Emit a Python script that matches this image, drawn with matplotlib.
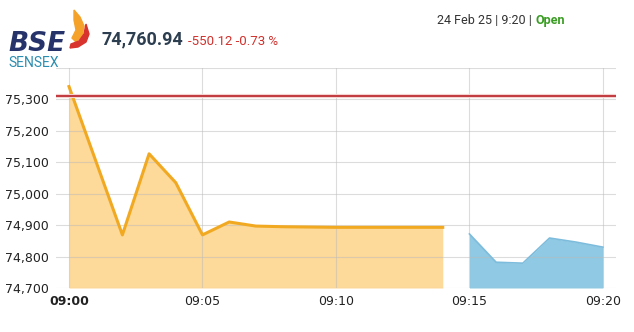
import matplotlib.pyplot as plt
from matplotlib.patches import Polygon

# minutes after 09:00
morning_min = list(range(0, 15))
morning_val = [75341, 75105, 74869, 75127, 75035, 74869, 74910, 74897,
               74895, 74894, 74893, 74893, 74893, 74893, 74893]
late_min = [15, 16, 17, 18, 19, 20]
late_val = [74872, 74782, 74779, 74859, 74846, 74830]
prev_close = 75311.06
y_ticks = [74700, 74800, 74900, 75000, 75100, 75200, 75300]
x_ticks = [0, 5, 10, 15, 20]
x_labels = ["09:00", "09:05", "09:10", "09:15", "09:20"]

fig = plt.figure(figsize=(6.34, 3.32), dpi=100)
ax = fig.add_axes([56 / 634, 1 - 288 / 332, 560 / 634, 220 / 332])

ax.fill_between(morning_min, morning_val, 74700, color='#fdd99a', lw=0, zorder=2)
ax.plot(morning_min, morning_val, color='#f2a922', lw=2.2, solid_joinstyle='round', zorder=4)
ax.fill_between(late_min, late_val, 74700, color='#8fc9e3', lw=0, zorder=2)
ax.plot(late_min, late_val, color='#7dbcdc', lw=1.2, zorder=4)
ax.axhline(prev_close, color='#f5d3d3', lw=3, zorder=5)
ax.axhline(prev_close, color='#c0393e', lw=1.4, zorder=6)

ax.set_xlim(-0.487, 20.49)
ax.set_ylim(74700, 75400)
ax.set_yticks(y_ticks + [75400])
ax.set_yticklabels([f"{v:,}" for v in y_ticks] + [""], fontsize=9, color='#222222')
ax.set_xticks(x_ticks)
ax.set_xticklabels(x_labels, fontsize=9, color='#222222')
ax.get_xticklabels()[0].set_fontweight('bold')
ax.tick_params(length=0, pad=5)
ax.tick_params(axis='x', pad=5)
ax.grid(True, color='#bbbbbb', lw=0.8, alpha=0.5, zorder=3)
ax.set_axisbelow(False)
for s in ax.spines.values():
    s.set_visible(False)

# header
fig.text(8 / 634, 1 - 51 / 332, "BSE", fontsize=19, fontweight='bold', fontstyle='italic',
         color='#26336a', family='DejaVu Sans')
fig.text(8 / 634, 1 - 67 / 332, "SENSEX", fontsize=10, color='#2a8db0', family='Roboto')
flame = Polygon([(74, 10), (80, 17), (84, 26), (82, 36), (76, 42), (72, 38), (76, 30), (74, 20)],
                closed=True, transform=None, color='#f5a22a')
flame2 = Polygon([(86, 24), (89, 34), (86, 42), (78, 47), (70, 48), (71, 44), (79, 41), (84, 34)],
                 closed=True, transform=None, color='#d9332e')
for p in (flame, flame2):
    p.set_xy([(x, 332 - y) for x, y in p.get_xy()])
    fig.patches.append(p)

val = fig.text(102 / 634, 1 - 44 / 332, "74,760.94", fontsize=13, color='#2c3e50',
               fontweight='bold', family='Roboto')
ax.annotate("-550.12 -0.73 %", xy=(1, 0), xycoords=val, xytext=(3, 0), textcoords='offset points',
            fontsize=9.5, color='#d0312d', family='Roboto', va='bottom', annotation_clip=False)
t = fig.text(437 / 634, 1 - 24 / 332, "24 Feb 25 | 9:20 |", fontsize=9, color='#333333', family='Roboto')
ax.annotate("Open", xy=(1, 0), xycoords=t, xytext=(2.5, 0), textcoords='offset points',
            fontsize=9, color='#3a9d23', fontweight='bold', family='Roboto', va='bottom',
            annotation_clip=False)

fig.savefig("out.png", dpi=100)
